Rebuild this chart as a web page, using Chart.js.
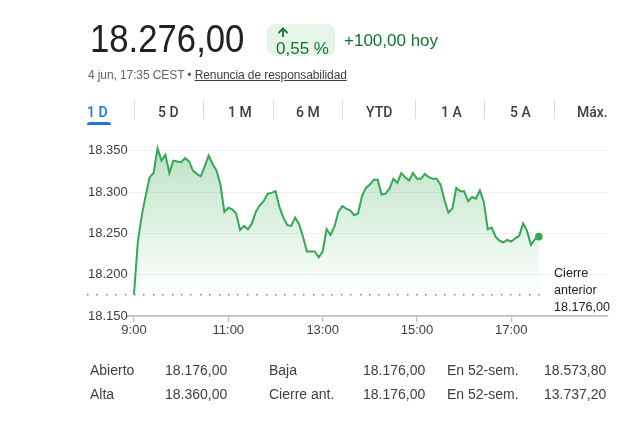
<!DOCTYPE html>
<html>
<head>
<meta charset="utf-8">
<script src="https://cdn.jsdelivr.net/npm/chart.js@4/dist/chart.umd.min.js"></script>
<style>
  html, body { margin: 0; padding: 0; background: #fff; }
  body { width: 622px; height: 423px; position: relative; overflow: hidden; font-family: Arial, "Liberation Sans", sans-serif; }
  #c { position: absolute; left: 0; top: 0; z-index: 0; }
  .t { position: absolute; white-space: nowrap; line-height: 1; z-index: 1; }
  .price { left: 90px; top: 19px; font-size: 39px; color: #202124; transform: scaleX(0.89); transform-origin: left center; }
  .badge { position: absolute; left: 267px; top: 24px; width: 68px; height: 32px; background: #e6f4ea; border-radius: 8px; z-index: 1; }
  .pct { left: 276px; top: 40px; font-size: 17px; color: #137333; }
  .chg { left: 344px; top: 32px; font-size: 17px; color: #137333; }
  .date { left: 88px; top: 69px; font-size: 12px; color: #5f6368; letter-spacing: -0.1px; }
  .date u { color: #3c4043; text-decoration: underline; }
  .tab { top: 105px; font-size: 14px; color: #3c4043; font-family: Roboto, Arial, sans-serif; font-weight: 500; }
  .tab.active { color: #1a73e8; }
  .sep { position: absolute; top: 100px; width: 1px; height: 19px; background: #dadce0; z-index: 1; }
  .uline { position: absolute; left: 87px; top: 122px; width: 24px; height: 3px; background: #1a73e8; border-radius: 3px 3px 0 0; z-index: 1; }
  .st { font-size: 14px; color: #3c4043; }
  .prev { left: 554px; top: 265px; font-size: 12.6px; line-height: 17px; color: #202124; }
</style>
</head>
<body>
<canvas id="c" width="622" height="423"></canvas>

<div class="t price">18.276,00</div>
<div class="badge"></div>
<svg style="position:absolute;left:272px;top:26px;z-index:2" width="20" height="14">
  <path d="M11 2.5 L11 11" stroke="#137333" stroke-width="1.8" fill="none"/>
  <path d="M6.5 7 L11 2.5 L15.5 7" stroke="#137333" stroke-width="1.8" fill="none"/>
</svg>
<div class="t pct">0,55 %</div>
<div class="t chg">+100,00 hoy</div>
<div class="t date">4 jun, 17:35 CEST • <u>Renuncia de responsabilidad</u></div>

<div class="t tab active" style="left:87px">1 D</div>
<div class="uline"></div>
<div class="sep" style="left:134px"></div>
<div class="t tab" style="left:158px">5 D</div>
<div class="sep" style="left:203px"></div>
<div class="t tab" style="left:228px">1 M</div>
<div class="sep" style="left:273px"></div>
<div class="t tab" style="left:296px">6 M</div>
<div class="sep" style="left:342px"></div>
<div class="t tab" style="left:366px">YTD</div>
<div class="sep" style="left:415px"></div>
<div class="t tab" style="left:441px">1 A</div>
<div class="sep" style="left:484px"></div>
<div class="t tab" style="left:510px">5 A</div>
<div class="sep" style="left:554px"></div>
<div class="t tab" style="left:577px">Máx.</div>

<div class="t prev">Cierre<br>anterior<br>18.176,00</div>

<div class="t st" style="left:90px;top:363px">Abierto</div>
<div class="t st" style="left:165px;top:363px">18.176,00</div>
<div class="t st" style="left:269px;top:363px">Baja</div>
<div class="t st" style="left:363px;top:363px">18.176,00</div>
<div class="t st" style="left:447px;top:363px">En 52-sem.</div>
<div class="t st" style="left:544px;top:363px">18.573,80</div>
<div class="t st" style="left:90px;top:387px">Alta</div>
<div class="t st" style="left:165px;top:387px">18.360,00</div>
<div class="t st" style="left:269px;top:387px">Cierre ant.</div>
<div class="t st" style="left:363px;top:387px">18.176,00</div>
<div class="t st" style="left:447px;top:387px">En 52-sem.</div>
<div class="t st" style="left:544px;top:387px">13.737,20</div>

<script>
const times = [
  "9:00","9:05","9:10","9:15","9:20","9:25","9:30","9:35","9:40","9:45","9:50","9:55",
  "10:00","10:05","10:10","10:15","10:20","10:25","10:30","10:35","10:40","10:45","10:50","10:55",
  "11:00","11:05","11:10","11:15","11:20","11:25","11:30","11:35","11:40","11:45","11:50","11:55",
  "12:00","12:05","12:10","12:15","12:20","12:25","12:30","12:35","12:40","12:45","12:50","12:55",
  "13:00","13:05","13:10","13:15","13:20","13:25","13:30","13:35","13:40","13:45","13:50","13:55",
  "14:00","14:05","14:10","14:15","14:20","14:25","14:30","14:35","14:40","14:45","14:50","14:55",
  "15:00","15:05","15:10","15:15","15:20","15:25","15:30","15:35","15:40","15:45","15:50","15:55",
  "16:00","16:05","16:10","16:15","16:20","16:25","16:30","16:35","16:40","16:45","16:50","16:55",
  "17:00","17:05","17:10","17:15","17:20","17:25","17:30","17:35"
];
const prices = [
  18176,18241,18272,18296,18318,18323,18353,18338,18345,18323,18338,18337,
  18336,18341,18337,18326,18322,18319,18331,18344,18334,18326,18309,18276,
  18281,18279,18274,18254,18259,18255,18262,18276,18284,18289,18298,18299,
  18301,18282,18269,18260,18259,18269,18261,18246,18228,18228,18228,18221,
  18228,18255,18248,18258,18276,18283,18280,18278,18272,18274,18295,18305,
  18309,18315,18315,18297,18298,18304,18316,18311,18323,18318,18314,18323,
  18316,18316,18322,18318,18316,18316,18309,18290,18275,18280,18305,18301,
  18301,18289,18294,18292,18302,18288,18255,18257,18246,18241,18239,18242,
  18240,18244,18247,18262,18253,18236,18243,18246
];
const prevClose = 18176;
const yTickValues = [18150, 18200, 18250, 18300, 18350];
const xTickLabels = ["9:00", "11:00", "13:00", "15:00", "17:00"];

function toMin(t) { const p = t.split(':').map(Number); return (p[0] - 9) * 60 + p[1]; }
function fmtMin(v) { const h = 9 + Math.floor(v / 60), m = v % 60; return h + ':' + String(m).padStart(2, '0'); }
function fmtThousands(v) { return String(v).replace(/\B(?=(\d{3})+(?!\d))/g, '.'); }

const green = '#34a853';

const prevLinePlugin = {
  id: 'prevLine',
  beforeDatasetsDraw(chart) {
    const { ctx, scales } = chart;
    const y = Math.round(scales.y.getPixelForValue(prevClose));
    const x0 = scales.y.left - 1;
    const x1 = scales.x.getPixelForValue(toMin(times[times.length - 1])) + 6;
    ctx.save();
    ctx.fillStyle = '#80868b';
    for (let x = x0; x <= x1; x += 9.4) {
      ctx.fillRect(Math.round(x), y - 1, 1.5, 1.5);
    }
    ctx.restore();
  }
};

new Chart(document.getElementById('c'), {
  type: 'line',
  data: {
    datasets: [{
      data: times.map((t, i) => ({ x: toMin(t), y: prices[i] })),
      borderColor: green,
      borderWidth: 2,
      tension: 0,
      pointRadius: (c) => c.dataIndex === prices.length - 1 ? 3.8 : 0,
      pointBackgroundColor: green,
      pointBorderWidth: 0,
      fill: { value: prevClose },
      backgroundColor: (c) => {
        const ch = c.chart;
        const area = ch.chartArea;
        if (!area) return 'rgba(52,168,83,0.15)';
        const yb = ch.scales.y.getPixelForValue(prevClose);
        const g = ch.ctx.createLinearGradient(0, area.top + 15, 0, yb);
        g.addColorStop(0, 'rgba(52,168,83,0.32)');
        g.addColorStop(1, 'rgba(52,168,83,0.0)');
        return g;
      }
    }]
  },
  options: {
    responsive: false,
    animation: false,
    events: [],
    layout: { padding: { left: 88, right: 14, top: 135, bottom: 83 } },
    plugins: { legend: { display: false }, tooltip: { enabled: false } },
    scales: {
      x: {
        type: 'linear',
        min: -7.6,
        max: 603,
        afterBuildTicks: (s) => { s.ticks = xTickLabels.map(t => ({ value: toMin(t) })); },
        afterFit: (s) => { s.height = 24; },
        ticks: {
          callback: (v) => fmtMin(v),
          color: '#3c4043',
          font: { family: 'Arial', size: 13 },
          padding: 1,
          maxRotation: 0,
          autoSkip: false
        },
        grid: { display: true, drawOnChartArea: false, drawTicks: true, tickLength: 6, color: '#bdc1c6', lineWidth: 1.3 },
        border: { display: true, color: '#bdc1c6', width: 1.8 }
      },
      y: {
        min: 18150,
        max: 18369,
        afterBuildTicks: (s) => { s.ticks = yTickValues.map(v => ({ value: v })); },
        afterFit: (s) => { s.width = 40; },
        ticks: {
          callback: (v) => fmtThousands(v),
          color: '#3c4043',
          font: { family: 'Arial', size: 13 },
          padding: 0,
          crossAlign: 'far'
        },
        grid: { color: (c) => c.tick && c.tick.value === 18150 ? 'rgba(0,0,0,0)' : '#eef0f1', lineWidth: 1, drawTicks: false },
        border: { display: false }
      }
    }
  },
  plugins: [prevLinePlugin]
});
</script>
</body>
</html>
